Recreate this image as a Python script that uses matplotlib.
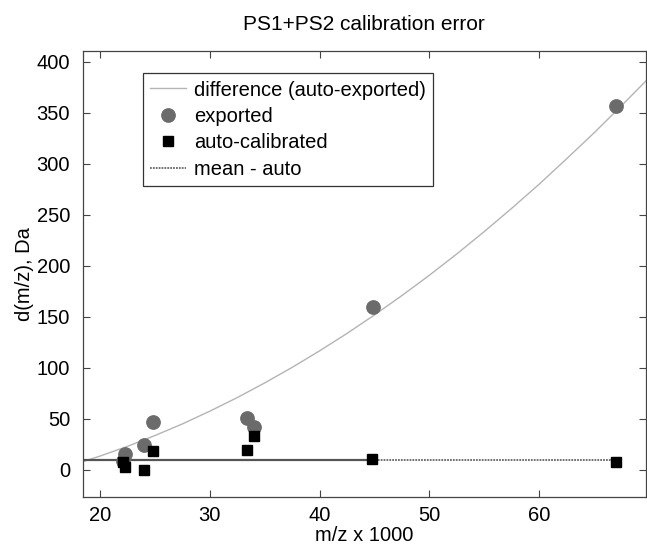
import matplotlib
matplotlib.use("Agg")
import matplotlib.pyplot as plt

# ---- data ----
curve_x = [18.4, 20, 22.5, 25, 27.5, 30, 32.5, 35, 37.5, 40, 42.5, 45, 47.5,
           50, 52.5, 55, 57.5, 60, 62.5, 65, 67.5, 69.8]
curve_y = [8.0, 13.6, 23.1, 33.7, 45.1, 57.6, 70.9, 85.3, 100.5, 116.7, 133.8,
           151.9, 170.9, 190.8, 211.7, 233.6, 256.4, 280.0, 304.9, 330.3, 356.9, 382.0]

exported_x = [22.1, 22.3, 24.0, 24.8, 33.4, 34.0, 44.9, 67.0]
exported_y = [9, 16, 24, 47, 51, 42, 160, 357]

auto_x = [22.1, 22.3, 24.0, 24.8, 33.4, 34.0, 44.8, 67.0]
auto_y = [8, 3, 0, 19, 20, 33, 10.5, 7.5]

mean_auto = 9.3
mean_solid_x = [18.4, 44.8]
mean_dotted_x = [44.8, 67.0]

xticks = [20, 30, 40, 50, 60]
yticks = [0, 50, 100, 150, 200, 250, 300, 350, 400]

plt.rcParams['font.family'] = ['Liberation Sans', 'DejaVu Sans']
FS = 14.5

fig = plt.figure(figsize=(6.47, 5.47), dpi=100)
ax = fig.add_axes([0.1278, 0.0909, 0.8707, 0.8164])

ax.plot(curve_x, curve_y, color='#b4b4b4', lw=1.0,
        label='difference (auto-exported)', zorder=2)
ax.plot(exported_x, exported_y, 'o', color='#6b6b6b', ms=9.6, mec='#6b6b6b',
        label='exported', zorder=3)
ax.plot(auto_x, auto_y, 's', color='black', ms=7.7, mec='black',
        label='auto-calibrated', zorder=4)
ax.plot(mean_solid_x, [mean_auto] * len(mean_solid_x), '-', color='#555555',
        lw=1.6, zorder=2)
ax.plot(mean_dotted_x, [mean_auto] * len(mean_dotted_x), linestyle=(0, (1, 0.6)),
        color='#666666', lw=1.3, label='mean - auto', zorder=2)

ax.set_xlim(18.42, 69.75)
ax.set_ylim(-26.8, 411)
ax.set_xticks(xticks)
ax.set_yticks(yticks)
ax.tick_params(direction='in', length=5, width=0.8, color='#444444',
               top=True, right=True, labelsize=FS)
ax.tick_params(axis='y', pad=9)
ax.tick_params(axis='x', pad=6)
for s in ax.spines.values():
    s.set_color('#444444')
    s.set_linewidth(0.9)

ax.set_title('PS1+PS2 calibration error', fontsize=FS + 0.5, pad=15)
ax.set_xlabel('m/z x 1000', fontsize=FS, labelpad=1)
ax.set_ylabel('d(m/z), Da', fontsize=FS, labelpad=2)

leg = ax.legend(loc='upper left', bbox_to_anchor=(0.1076, 0.949), fontsize=FS,
                frameon=True, fancybox=False, framealpha=1, edgecolor='#333333',
                handlelength=1.75, handletextpad=0.4, labelspacing=0.37,
                borderpad=0.35, borderaxespad=0)
leg.get_frame().set_linewidth(0.9)
fig.canvas.draw()
# widen legend frame slightly on the right like the reference
bb = leg.get_frame().get_bbox()
leg.get_frame().set_bounds(bb.x0, bb.y0, bb.width + 5, bb.height)

fig.savefig('out.png', dpi=100)
